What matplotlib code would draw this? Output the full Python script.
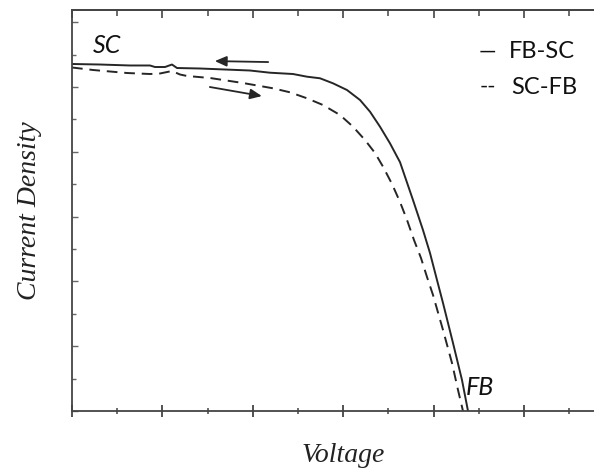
import matplotlib
matplotlib.use("Agg")
import matplotlib.pyplot as plt
from matplotlib.ticker import MultipleLocator

# Data (arbitrary units)
fbsc_v = [0, 0.619, 1.283, 1.726, 1.836, 2.058, 2.212, 2.323, 2.832, 3.938, 4.381, 4.889,
          5.199, 5.487, 5.774, 6.084, 6.372, 6.593, 6.814, 7.035, 7.257, 7.544, 7.765, 7.920,
          8.075, 8.208, 8.429, 8.628, 8.761]
fbsc_j = [10.710, 10.694, 10.664, 10.664, 10.617, 10.617, 10.694, 10.586, 10.571, 10.509,
          10.441, 10.401, 10.318, 10.269, 10.114, 9.907, 9.599, 9.238, 8.775, 8.262, 7.680,
          6.512, 5.586, 4.877, 4.043, 3.333, 2.099, 0.957, 0]

scfb_v = [0, 0.465, 1.217, 1.726, 1.947, 2.212, 2.389, 2.544, 3.053, 3.783, 4.447, 4.823,
          5.199, 5.553, 5.929, 6.217, 6.482, 6.704, 6.881, 7.080, 7.257, 7.412, 7.566, 7.721,
          7.854, 7.987, 8.208, 8.407, 8.540, 8.650]
scfb_j = [10.602, 10.525, 10.432, 10.401, 10.417, 10.494, 10.386, 10.340, 10.278, 10.123,
          9.960, 9.836, 9.651, 9.444, 9.136, 8.775, 8.364, 7.963, 7.540, 7.006, 6.451, 5.895,
          5.278, 4.722, 4.136, 3.580, 2.500, 1.481, 0.648, 0]

arrow_back = [(4.34, 10.77), (3.16, 10.80)]
arrow_fwd = [(3.05, 10.00), (4.20, 9.72)]

series_labels = ["FB-SC", "SC-FB"]

W, H = 594, 473
fig = plt.figure(figsize=(W / 100, H / 100), dpi=100)
left, bottom, top = 72, 411, 10
right = 72 + 45.2 * 12
ax = fig.add_axes([left / W, (H - bottom) / H, (right - left) / W, (bottom - top) / H])
ax.set_xlim(0, 12)
ax.set_ylim(0, (bottom - top) / 32.4)

col = "#262626"
ax.plot(fbsc_v, fbsc_j, color=col, lw=1.4, solid_joinstyle="round")
ax.plot(scfb_v, scfb_j, color=col, lw=1.4, ls=(0, (5.5, 3.5)))

for (a, b) in (arrow_back, arrow_fwd):
    ax.annotate("", xy=b, xytext=a,
                arrowprops=dict(arrowstyle="-|>,head_length=0.5,head_width=0.22", color=col,
                                lw=1.3, mutation_scale=14, shrinkA=0, shrinkB=0))

ax.text(0.46, 11.28, "SC", fontsize=18, family="Lato", style="italic", color="#111",
        va="center", ha="left")
ax.text(8.72, 0.74, "FB", fontsize=18, family="Lato", style="italic", color="#111",
        va="center", ha="left")

# legend as text
fig.text(479 / W, 1 - 52 / H, "\u2014", fontsize=16, family="Lato", color="#111", va="center")
fig.text(480 / W, 1 - 87 / H, "--", fontsize=16, family="Lato", color="#111", va="center")
fig.text(509 / W, 1 - 52 / H, series_labels[0], fontsize=17, family="Lato", color="#111", va="center")
fig.text(511 / W, 1 - 87 / H, series_labels[1], fontsize=17, family="Lato", color="#111", va="center")

ax.set_xlabel("Voltage", fontsize=20, family="Liberation Serif", style="italic", color="#222",
              labelpad=17)
ax.set_ylabel("Current Density", fontsize=20, family="Liberation Serif", style="italic",
              color="#222", labelpad=18)

for s in ax.spines.values():
    s.set_color("#444")
    s.set_linewidth(1.3)
ax.spines["right"].set_visible(False)

ax.xaxis.set_major_locator(MultipleLocator(2))
ax.xaxis.set_minor_locator(MultipleLocator(1))
ax.yaxis.set_major_locator(MultipleLocator(2))
ax.yaxis.set_minor_locator(MultipleLocator(1))
ax.tick_params(axis="x", which="major", direction="inout", length=8, width=1.3, color="#444",
               labelbottom=False, top=False)
ax.tick_params(axis="x", which="minor", direction="inout", length=5, width=1.1, color="#444",
               top=False)
ax.tick_params(axis="y", which="major", direction="in", length=4, width=1.0, color="#666",
               labelleft=False, right=False)
ax.tick_params(axis="y", which="minor", direction="in", length=3, width=1.0, color="#666",
               right=False)

sec = ax.secondary_xaxis("top")
sec.xaxis.set_major_locator(MultipleLocator(2))
sec.xaxis.set_minor_locator(MultipleLocator(1))
sec.tick_params(which="major", direction="in", length=6, width=1.2, color="#444", labeltop=False)
sec.tick_params(which="minor", direction="in", length=4, width=1.1, color="#444")
sec.spines["top"].set_color("#444")
sec.spines["top"].set_linewidth(1.3)

fig.savefig("out.png", dpi=100)
